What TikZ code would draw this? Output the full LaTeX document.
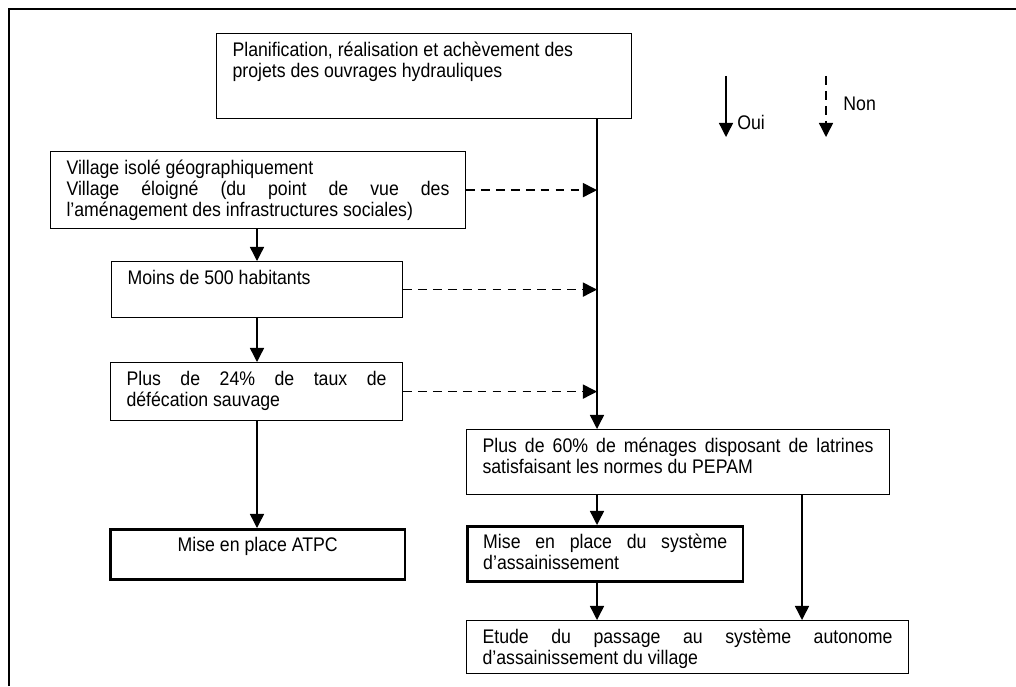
\documentclass[tikz,border=0pt]{standalone}
\usepackage{fontspec}
\setmainfont{Liberation Sans}[FakeStretch=0.9]
\usepackage{tikz}
\usetikzlibrary{calc,arrows.meta,positioning}
\tolerance=9999
\hyphenpenalty=10000
\exhyphenpenalty=10000
\newlength{\pxu}
\setlength{\pxu}{0.02cm}
\newcommand{\etape}[4][]{\parbox[t][#3\pxu][t]{#2\pxu}{#1\strut #4}}

\begin{document}
\begin{tikzpicture}[x=0.02cm, y=-0.02cm,
  boite/.style={draw, line width=0.8pt, anchor=north west, inner xsep=9pt, inner ysep=4.5pt,
    font=\fontsize{11.2pt}{11.9pt}\selectfont},
  boiteforte/.style={boite, line width=1.6pt},
  oui/.style={line width=0.8pt, -{Triangle[length=8pt,width=8pt]}},
  non/.style={oui, dash pattern=on 5pt off 3.5pt},
  legende/.style={anchor=west, inner sep=0pt, font=\fontsize{11.2pt}{11.9pt}\selectfont}]
\useasboundingbox (0,0) rectangle (1016,686);
\draw[line width=1.2pt] (9,686) -- (9,9) -- (1016,9);

\node[boite] (ouvrages) at (216,33) {\etape[\raggedright]{383}{69}{Planification, réalisation et achèvement des\\ projets des ouvrages hydrauliques}};
\node[boite] (isole) at (50,151) {\etape{383}{61}{Village isolé géographiquement\\ Village éloigné (du point de vue des\linebreak l’aménagement des infrastructures sociales)}};
\node[boite] (moins) at (111,261) {\etape{259}{40}{Moins de 500 habitants}};
\node[boite] (defec) at (110,362) {\etape{260}{42}{Plus de 24\% de taux de\linebreak défécation sauvage}};
\node[boiteforte] (atpc) at (109,528) {\etape[\centering]{263}{34}{Mise en place ATPC}};
\node[boite] (menages) at (466,429) {\etape{391}{49}{Plus de 60\% de ménages disposant de latrines\linebreak satisfaisant les normes du PEPAM}};
\node[boiteforte] (assain) at (466,525) {\etape{244}{39}{Mise en place du système\linebreak d’assainissement}};
\node[boite] (etude) at (466,620) {\etape{410}{37}{Etude du passage au système autonome\linebreak d’assainissement du village}};

\coordinate (tronc) at (597,0);
\coordinate (gauche) at (257,0);
\coordinate (droite) at (802,0);

\draw[oui] (ouvrages.south -| tronc) -- (menages.north -| tronc);
\draw[non] (isole.east) -- (isole.east -| tronc);
\draw[non] (moins.east) -- (moins.east -| tronc);
\draw[non] (defec.east) -- (defec.east -| tronc);
\draw[oui] (isole.south -| gauche) -- (moins.north -| gauche);
\draw[oui] (moins.south -| gauche) -- (defec.north -| gauche);
\draw[oui] (defec.south -| gauche) -- (atpc.north -| gauche);
\draw[oui] (menages.south -| tronc) -- (assain.north -| tronc);
\draw[oui] (assain.south -| tronc) -- (etude.north -| tronc);
\draw[oui] (menages.south -| droite) -- (etude.north -| droite);

\coordinate (oui-haut) at (726,76);
\coordinate (oui-bas) at (726,137);
\coordinate (non-haut) at (826,76);
\coordinate (non-bas) at (826,137);
\draw[oui] (oui-haut) -- (oui-bas);
\draw[non] (non-haut) -- (non-bas);
\node[legende] (oui-texte) at (737,122) {Oui};
\node[legende] (non-texte) at (843,104) {Non};
\end{tikzpicture}
\end{document}
